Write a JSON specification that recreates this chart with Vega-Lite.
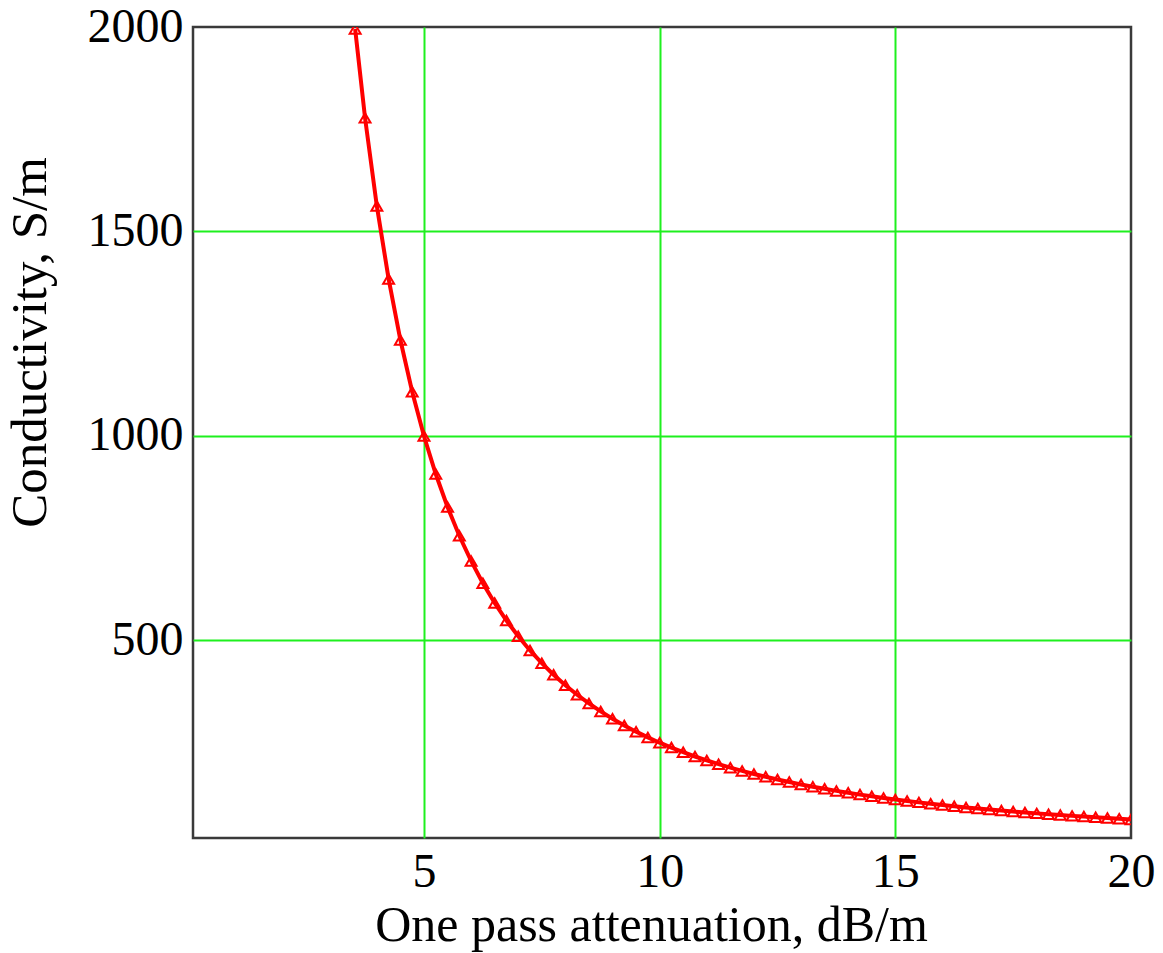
{
  "$schema": "https://vega.github.io/schema/vega-lite/v6.json",
  "autosize": "none",
  "width": 938,
  "height": 811,
  "padding": {"left": 193, "top": 27, "right": 32, "bottom": 115},
  "background": "white",
  "config": {
    "view": {"stroke": "#3a3a3a", "strokeWidth": 2.5},
    "font": "Liberation Serif"
  },
  "data": {"values": [
    {"a": 3.54, "s": 1995.0}, {"a": 3.75, "s": 1777.8}, {"a": 4.0, "s": 1562.5}, {"a": 4.25, "s": 1384.1},
    {"a": 4.5, "s": 1234.6}, {"a": 4.75, "s": 1108.0}, {"a": 5.0, "s": 1000.0}, {"a": 5.25, "s": 907.0},
    {"a": 5.5, "s": 826.4}, {"a": 5.75, "s": 756.1}, {"a": 6.0, "s": 694.4}, {"a": 6.25, "s": 640.0},
    {"a": 6.5, "s": 591.7}, {"a": 6.75, "s": 548.7}, {"a": 7.0, "s": 510.2}, {"a": 7.25, "s": 475.6},
    {"a": 7.5, "s": 444.4}, {"a": 7.75, "s": 416.2}, {"a": 8.0, "s": 390.6}, {"a": 8.25, "s": 367.3},
    {"a": 8.5, "s": 346.0}, {"a": 8.75, "s": 326.5}, {"a": 9.0, "s": 308.6}, {"a": 9.25, "s": 292.2},
    {"a": 9.5, "s": 277.0}, {"a": 9.75, "s": 263.0}, {"a": 10.0, "s": 250.0}, {"a": 10.25, "s": 238.0},
    {"a": 10.5, "s": 226.8}, {"a": 10.75, "s": 216.3}, {"a": 11.0, "s": 206.6}, {"a": 11.25, "s": 197.5},
    {"a": 11.5, "s": 189.0}, {"a": 11.75, "s": 181.1}, {"a": 12.0, "s": 173.6}, {"a": 12.25, "s": 166.6},
    {"a": 12.5, "s": 160.0}, {"a": 12.75, "s": 153.8}, {"a": 13.0, "s": 147.9}, {"a": 13.25, "s": 142.4},
    {"a": 13.5, "s": 137.2}, {"a": 13.75, "s": 132.2}, {"a": 14.0, "s": 127.6}, {"a": 14.25, "s": 123.1},
    {"a": 14.5, "s": 118.9}, {"a": 14.75, "s": 114.9}, {"a": 15.0, "s": 111.1}, {"a": 15.25, "s": 107.5},
    {"a": 15.5, "s": 104.1}, {"a": 15.75, "s": 100.8}, {"a": 16.0, "s": 97.7}, {"a": 16.25, "s": 94.7},
    {"a": 16.5, "s": 91.8}, {"a": 16.75, "s": 89.1}, {"a": 17.0, "s": 86.5}, {"a": 17.25, "s": 84.0},
    {"a": 17.5, "s": 81.6}, {"a": 17.75, "s": 79.3}, {"a": 18.0, "s": 77.2}, {"a": 18.25, "s": 75.1},
    {"a": 18.5, "s": 73.0}, {"a": 18.75, "s": 71.1}, {"a": 19.0, "s": 69.3}, {"a": 19.25, "s": 67.5},
    {"a": 19.5, "s": 65.7}, {"a": 19.75, "s": 64.1}, {"a": 20.0, "s": 62.5}
  ]},
  "encoding": {
    "x": {
      "field": "a", "type": "quantitative",
      "scale": {"domain": [0.1, 20], "nice": false, "zero": false},
      "axis": {
        "values": [5, 10, 15, 20],
        "title": "One pass attenuation, dB/m",
        "titleFont": "Liberation Serif", "titleFontSize": 50, "titleFontWeight": "normal", "titleColor": "black",
        "titleX": 458, "titleY": 87, "titleBaseline": "middle", "titleAnchor": "middle", "titleAlign": "center",
        "labelFont": "Liberation Serif", "labelFontSize": 48, "labelColor": "black",
        "labelPadding": 10, "labelFlush": false, "labelOverlap": false,
        "ticks": false, "domain": false,
        "grid": true, "gridColor": "#1ef01e", "gridWidth": 2,
        "gridOpacity": {"condition": {"test": "datum.value >= 20", "value": 0}, "value": 1}
      }
    },
    "y": {
      "field": "s", "type": "quantitative",
      "scale": {"domain": [17, 2000], "nice": false, "zero": false},
      "axis": {
        "values": [500, 1000, 1500, 2000],
        "format": "d",
        "title": "Conductivity, S/m",
        "titleFont": "Liberation Serif", "titleFontSize": 51, "titleFontWeight": "normal", "titleColor": "black",
        "titleX": -163, "titleY": 315, "titleAngle": -90, "titleBaseline": "middle", "titleAlign": "center",
        "labelFont": "Liberation Serif", "labelFontSize": 48, "labelColor": "black",
        "labelPadding": 10, "labelFlush": false, "labelOverlap": false, "labelBaseline": "middle",
        "ticks": false, "domain": false,
        "grid": true, "gridColor": "#1ef01e", "gridWidth": 2,
        "gridOpacity": {"condition": {"test": "datum.value >= 2000", "value": 0}, "value": 1}
      }
    }
  },
  "layer": [
    {"mark": {"type": "line", "color": "#ff0000", "strokeWidth": 4, "clip": true}},
    {"mark": {"type": "point", "shape": "triangle-up", "filled": false, "color": "#ff0000", "opacity": 1, "size": 120, "strokeWidth": 2, "clip": true}}
  ]
}
